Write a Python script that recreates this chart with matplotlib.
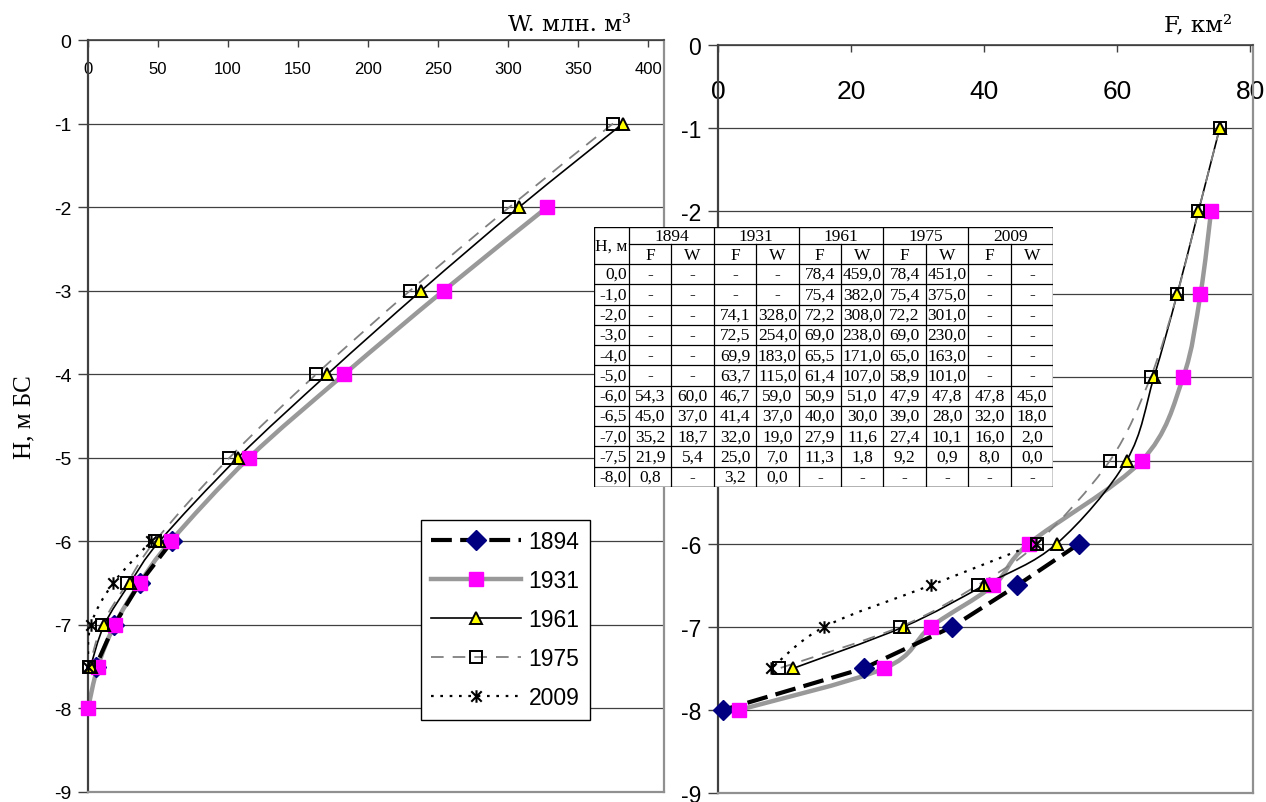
import numpy as np
import matplotlib
matplotlib.use('agg')
import matplotlib.pyplot as plt
from matplotlib.path import Path
from matplotlib.patches import PathPatch
from matplotlib.lines import Line2D

plt.rcParams['axes.unicode_minus'] = False

levels = [0.0, -1.0, -2.0, -3.0, -4.0, -5.0, -6.0, -6.5, -7.0, -7.5, -8.0]
years = ['1894', '1931', '1961', '1975', '2009']

F_1894 = [None, None, None, None, None, None, 54.3, 45.0, 35.2, 21.9, 0.8]
W_1894 = [None, None, None, None, None, None, 60.0, 37.0, 18.7, 5.4, None]
F_1931 = [None, None, 74.1, 72.5, 69.9, 63.7, 46.7, 41.4, 32.0, 25.0, 3.2]
W_1931 = [None, None, 328.0, 254.0, 183.0, 115.0, 59.0, 37.0, 19.0, 7.0, 0.0]
F_1961 = [78.4, 75.4, 72.2, 69.0, 65.5, 61.4, 50.9, 40.0, 27.9, 11.3, None]
W_1961 = [459.0, 382.0, 308.0, 238.0, 171.0, 107.0, 51.0, 30.0, 11.6, 1.8, None]
F_1975 = [78.4, 75.4, 72.2, 69.0, 65.0, 58.9, 47.9, 39.0, 27.4, 9.2, None]
W_1975 = [451.0, 375.0, 301.0, 230.0, 163.0, 101.0, 47.8, 28.0, 10.1, 0.9, None]
F_2009 = [None, None, None, None, None, None, 47.8, 32.0, 16.0, 8.0, None]
W_2009 = [None, None, None, None, None, None, 45.0, 18.0, 2.0, 0.0, None]

F_all = [F_1894, F_1931, F_1961, F_1975, F_2009]
W_all = [W_1894, W_1931, W_1961, W_1975, W_2009]

# the 0 m level is only in the table, graphs start at -1 m
first_plot = 1

star = Path([(-1, -1), (1, 1), (-1, 1), (1, -1), (0, -1.2), (0, 1.2)],
            [Path.MOVETO, Path.LINETO, Path.MOVETO, Path.LINETO, Path.MOVETO, Path.LINETO])

styles = {
    '1894': dict(color='black', lw=3.0, ls=(0, (5, 2)), marker='D', ms=10, mfc='#000080', mec='#000080', mew=1, smooth=False, zl=2.5, zm=4),
    '1931': dict(color='#999999', lw=3.2, ls='-', marker='s', ms=10.5, mfc='#ff00ff', mec='#ff00ff', mew=1, smooth=True, zl=2, zm=4.5),
    '1961': dict(color='black', lw=1.2, ls='-', marker='^', ms=8.5, mfc='#ffff00', mec='black', mew=1.4, smooth=True, zl=3, zm=5),
    '1975': dict(color='#808080', lw=1.3, ls=(0, (7, 5)), marker='s', ms=8, mfc='none', mec='black', mew=1.4, smooth=True, zl=3, zm=5.5),
    '2009': dict(color='black', lw=1.6, ls=(0, (1.2, 3)), marker=star, ms=9, mfc='none', mec='black', mew=1.5, smooth=True, zl=3, zm=6),
}

tick_font = ['Liberation Sans Narrow', 'Liberation Sans']


def curve(xs, ys, smooth):
    p = np.array([(a, b) for a, b in zip(xs, ys) if a is not None], float)
    verts = [p[0]]
    codes = [Path.MOVETO]
    n = len(p)
    for i in range(n - 1):
        if smooth:
            p0 = p[i - 1] if i > 0 else p[i]
            p3 = p[i + 2] if i + 2 < n else p[i + 1]
            c1 = p[i] + (p[i + 1] - p0) / 6.0
            c2 = p[i + 1] - (p3 - p[i]) / 6.0
            verts += [c1, c2, p[i + 1]]
            codes += [Path.CURVE4] * 3
        else:
            verts.append(p[i + 1])
            codes.append(Path.LINETO)
    return Path(verts, codes)


def draw_series(ax, values):
    for yr, vals in zip(years, values):
        st = styles[yr]
        xs = vals[first_plot:]
        ys = levels[first_plot:]
        patch = PathPatch(curve(xs, ys, st['smooth']), facecolor='none', edgecolor=st['color'],
                          lw=st['lw'], linestyle=st['ls'], zorder=st['zl'], capstyle='butt')
        ax.add_patch(patch)
        px = [a for a in xs if a is not None]
        py = [b for a, b in zip(xs, ys) if a is not None]
        ax.plot(px, py, ls='none', marker=st['marker'], ms=st['ms'], mfc=st['mfc'],
                mec=st['mec'], mew=st['mew'], zorder=st['zm'], clip_on=False)


def style_axes(ax, xmax, xticks, xsize, ysize):
    ax.set_xlim(0, xmax)
    ax.set_ylim(-9, 0)
    ax.set_xticks(xticks)
    ax.set_xticklabels([str(t) for t in xticks], family=tick_font)
    yt = list(range(-9, 1))
    ax.set_yticks(yt)
    ax.set_yticklabels([str(t) for t in yt], family=tick_font)
    ax.xaxis.set_ticks_position('top')
    ax.tick_params(axis='x', direction='in', length=5, width=1, labelsize=xsize, color='#404040')
    ax.tick_params(axis='y', direction='out', length=7, width=1, labelsize=ysize, pad=5, color='#404040')
    ax.yaxis.grid(True, color='#404040', lw=0.9)
    ax.set_axisbelow(True)
    ax.spines['left'].set_color('#404040')
    ax.spines['left'].set_linewidth(1.6)
    ax.spines['top'].set_color('#404040')
    ax.spines['top'].set_linewidth(1.2)
    for s in ('right', 'bottom'):
        ax.spines[s].set_color('#909090')
        ax.spines[s].set_linewidth(1.6)


fig = plt.figure(figsize=(12.66, 8.03), dpi=100)

ax1 = fig.add_axes([88 / 1266, 1 - 793 / 803, 576 / 1266, 752 / 803])
style_axes(ax1, 411.4, list(range(0, 401, 50)), 12, 14)
ax1.tick_params(axis='x', pad=-26)
draw_series(ax1, W_all)

ax2 = fig.add_axes([718 / 1266, 1 - 794 / 803, 535 / 1266, 748 / 803])
style_axes(ax2, 80.4, [0, 20, 40, 60, 80], 19, 16.5)
ax2.tick_params(axis='x', pad=-42)
draw_series(ax2, F_all)

fig.text(631 / 1266, 1 - 31 / 803, 'W. млн. м³', ha='right', va='baseline',
         family='DejaVu Serif', size=16.5)
fig.text(1232 / 1266, 1 - 31 / 803, 'F, км²', ha='right', va='baseline',
         family='DejaVu Serif', size=16.5)
fig.text(24 / 1266, 1 - 417 / 803, 'H, м БС', rotation=90, ha='center', va='center',
         family='Liberation Serif', size=18)

## Legend
handles = []
for yr in years:
    st = styles[yr]
    handles.append(Line2D([], [], color=st['color'], lw=st['lw'], ls=st['ls'], marker=st['marker'],
                          ms=st['ms'], mfc=st['mfc'], mec=st['mec'], mew=st['mew']))
leg = ax1.legend(handles, years, loc='upper left', bbox_to_anchor=(421 / 1266, 1 - 521 / 803),
                 bbox_transform=fig.transFigure, fancybox=False, framealpha=1, edgecolor='black',
                 prop={'family': tick_font, 'size': 16.5}, handlelength=3.9,
                 labelspacing=0.7, borderpad=0.45, handletextpad=0.35, borderaxespad=0)
leg.get_frame().set_linewidth(1.0)
leg.set_zorder(10)

## Table
tw, th = 459.0, 260.0
tab = fig.add_axes([594 / 1266, 1 - 488 / 803, tw / 1266, th / 803], zorder=20)
tab.set_xlim(0, tw)
tab.set_ylim(th, 0)
tab.axis('off')
tab.add_patch(plt.Rectangle((0, 0), tw, th, facecolor='white', edgecolor='black', lw=1.0))

hcol = 35.0
cw = (tw - hcol) / 10
r1, r2 = 17.0, 37.0
rh = (th - r2) / len(levels)
tkw = dict(family='Liberation Serif', size=12.5, va='center')

tab.plot([hcol, hcol], [0, th], color='black', lw=0.9)
tab.plot([hcol, tw], [r1, r1], color='black', lw=0.9)
for k in range(len(levels) + 1):
    y = r2 + k * rh
    tab.plot([0, tw], [y, y], color='black', lw=0.9)
for j in range(1, 10):
    x = hcol + j * cw
    top = 0 if j % 2 == 0 else r1
    tab.plot([x, x], [top, th], color='black', lw=0.9)

tab.text(hcol / 2, r2 / 2, 'H, м', ha='center', **tkw)
for j, yr in enumerate(years):
    x0 = hcol + 2 * j * cw
    tab.text(x0 + cw, r1 / 2 + 0.5, yr, ha='center', **tkw)
    tab.text(x0 + cw / 2, (r1 + r2) / 2 + 0.5, 'F', ha='center', **tkw)
    tab.text(x0 + 1.5 * cw, (r1 + r2) / 2 + 0.5, 'W', ha='center', **tkw)


def fmt(v):
    return '-' if v is None else ('%.1f' % v).replace('.', ',')


for i, h in enumerate(levels):
    yc = r2 + (i + 0.5) * rh
    tab.text(hcol - 2, yc, fmt(h), ha='right', **tkw)
    for j in range(5):
        x0 = hcol + 2 * j * cw
        tab.text(x0 + cw / 2, yc, fmt(F_all[j][i]), ha='center', **tkw)
        tab.text(x0 + 1.5 * cw, yc, fmt(W_all[j][i]), ha='center', **tkw)

plt.savefig('out.png', dpi=100)
